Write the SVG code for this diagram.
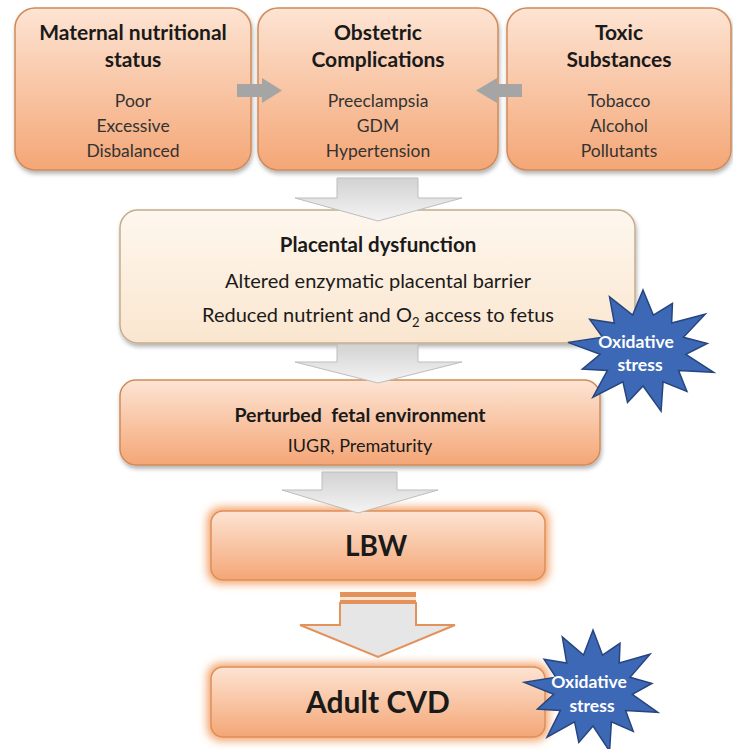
<svg xmlns="http://www.w3.org/2000/svg" width="733" height="749" viewBox="0 0 733 749">
<defs>
<linearGradient id="gOr" x1="0" y1="0" x2="0" y2="1">
<stop offset="0" stop-color="#fde4d3"/><stop offset="1" stop-color="#f4a676"/>
</linearGradient>
<linearGradient id="gCr" x1="0" y1="0" x2="0" y2="1">
<stop offset="0" stop-color="#fef7ee"/><stop offset="1" stop-color="#fae6cf"/>
</linearGradient>
<linearGradient id="gAr" x1="0" y1="0" x2="0" y2="1">
<stop offset="0" stop-color="#d2d2d2"/><stop offset="1" stop-color="#f4f4f4"/>
</linearGradient>
<filter id="sh" x="-10%" y="-10%" width="120%" height="130%">
<feDropShadow dx="1" dy="3" stdDeviation="2" flood-color="#000" flood-opacity="0.3"/>
</filter>
<filter id="glow" x="-20%" y="-30%" width="140%" height="160%">
<feGaussianBlur stdDeviation="4"/>
</filter>
<style>
.box{stroke:#d08a58;stroke-width:1.5;filter:url(#sh)}
.t{font-family:Lato,"Open Sans",sans-serif;text-anchor:middle;fill:#1a1a1a}
.b{font-weight:bold}
.ti{font-size:21px}
.it{font-size:17.5px;fill:#333}
.star{fill:#3d68b5;stroke:#27457f;stroke-width:1.5}
.st{font-family:Lato,"Open Sans",sans-serif;font-weight:bold;font-size:17.5px;fill:#fff;text-anchor:middle}
.ha{fill:#a5a5a5}
.va{fill:url(#gAr);stroke:#bdbdbd;stroke-width:1}
</style>
</defs>
<rect width="733" height="749" fill="#fff"/>

<g id="maternal">
<rect class="box" x="15" y="8" width="236" height="162" rx="20" fill="url(#gOr)"/>
<text class="t b ti" x="133" y="40">Maternal nutritional</text>
<text class="t b ti" x="133" y="67">status</text>
<text class="t it" x="133" y="107">Poor</text>
<text class="t it" x="133" y="132">Excessive</text>
<text class="t it" x="133" y="157">Disbalanced</text>
</g>

<g id="obstetric">
<rect class="box" x="258" y="8" width="240" height="162" rx="20" fill="url(#gOr)"/>
<text class="t b ti" x="378" y="40">Obstetric</text>
<text class="t b ti" x="378" y="67">Complications</text>
<text class="t it" x="378" y="107">Preeclampsia</text>
<text class="t it" x="378" y="132">GDM</text>
<text class="t it" x="378" y="157">Hypertension</text>
</g>

<g id="toxic">
<rect class="box" x="507" y="8" width="224" height="162" rx="20" fill="url(#gOr)"/>
<text class="t b ti" x="619" y="40">Toxic</text>
<text class="t b ti" x="619" y="67">Substances</text>
<text class="t it" x="619" y="107">Tobacco</text>
<text class="t it" x="619" y="132">Alcohol</text>
<text class="t it" x="619" y="157">Pollutants</text>
</g>

<g id="placental">
<rect x="120" y="210" width="515" height="133" rx="18" fill="url(#gCr)" stroke="#c4ad8c" stroke-width="1.5" filter="url(#sh)"/>
<text class="t b" x="378" y="252" font-size="20.5">Placental dysfunction</text>
<text class="t" x="378" y="288" font-size="20" fill="#222">Altered enzymatic placental barrier</text>
<text class="t" x="378" y="322" font-size="20" fill="#222">Reduced nutrient and O<tspan font-size="13" dy="5">2</tspan><tspan dy="-5"> access to fetus</tspan></text>
</g>

<g id="perturbed">
<rect class="box" x="120" y="380" width="480" height="85" rx="16" fill="url(#gOr)"/>
<text class="t b" x="360" y="422" font-size="19.5" style="white-space:pre">Perturbed  fetal environment</text>
<text class="t" x="360" y="452" font-size="18" fill="#222">IUGR, Prematurity</text>
</g>

<g id="lbw">
<rect x="207" y="507" width="342" height="77" rx="14" fill="#f3a66f" filter="url(#glow)"/>
<rect x="211" y="511" width="334" height="69" rx="12" fill="url(#gOr)" stroke="#e08e58" stroke-width="1.5"/>
<text class="t b" x="376" y="556" font-size="28">LBW</text>
</g>

<g id="adultcvd">
<rect x="207" y="663" width="342" height="78" rx="14" fill="#f3a66f" filter="url(#glow)"/>
<rect x="211" y="667" width="334" height="70" rx="12" fill="url(#gOr)" stroke="#e08e58" stroke-width="1.5"/>
<text class="t b" x="378" y="713" font-size="30">Adult CVD</text>
</g>

<g id="connectors">
<polygon class="ha" points="237,84 262,84 262,78 282,90.5 262,103 262,97 237,97"/>
<polygon class="ha" points="522,84 497,84 497,78 476,90.5 497,103 497,97 522,97"/>
<polygon class="va" points="337,178 418,178 418,198 462,198 378,221 295,198 337,198"/>
<polygon class="va" points="337,344 418,344 418,362 462,362 378,383 295,362 337,362"/>
<polygon class="va" points="322,472 397,472 397,490 438,490 358,513 282,490 322,490"/>
<g id="arrow4">
<polygon points="340,603 416,603 416,625 455,625 378,657 300,625 340,625" fill="#e6e6e6" stroke="#e3925c" stroke-width="2"/>
<rect x="340" y="592" width="76" height="5" fill="#e3925c"/>
<rect x="340" y="597" width="76" height="3" fill="#fbe3d2"/>
<rect x="340" y="600" width="76" height="4" fill="#e3925c"/>
</g>
</g>

<g id="oxstress1">
<polygon class="star" vector-effect="non-scaling-stroke" transform="translate(643,350) scale(72,60)" points="0,-1 0.1436,-0.5825 0.409,-0.779 0.3979,-0.4491 0.864,-0.597 0.561,-0.2128 0.893,-0.108 0.5956,0.0723 0.982,0.372 0.4938,0.3409 0.61,0.689 0.2788,0.5313 0.251,1.019 0,0.6 -0.215,0.874 -0.2788,0.5313 -0.696,0.786 -0.4938,0.3409 -0.842,0.319 -0.5956,0.0723 -1.042,-0.127 -0.561,-0.2128 -0.741,-0.511 -0.3979,-0.4491 -0.465,-0.886 -0.1436,-0.5825"/>
<text class="st" x="636" y="348">Oxidative</text>
<text class="st" x="640" y="371">stress</text>
</g>

<g id="oxstress2">
<polygon class="star" vector-effect="non-scaling-stroke" transform="translate(593,690) scale(66,60)" points="0,-1 0.1436,-0.5825 0.409,-0.779 0.3979,-0.4491 0.864,-0.597 0.561,-0.2128 0.893,-0.108 0.5956,0.0723 0.982,0.372 0.4938,0.3409 0.61,0.689 0.2788,0.5313 0.251,1.019 0,0.6 -0.215,0.874 -0.2788,0.5313 -0.696,0.786 -0.4938,0.3409 -0.842,0.319 -0.5956,0.0723 -1.042,-0.127 -0.561,-0.2128 -0.741,-0.511 -0.3979,-0.4491 -0.465,-0.886 -0.1436,-0.5825"/>
<text class="st" x="589" y="688">Oxidative</text>
<text class="st" x="592" y="712">stress</text>
</g>
</svg>
